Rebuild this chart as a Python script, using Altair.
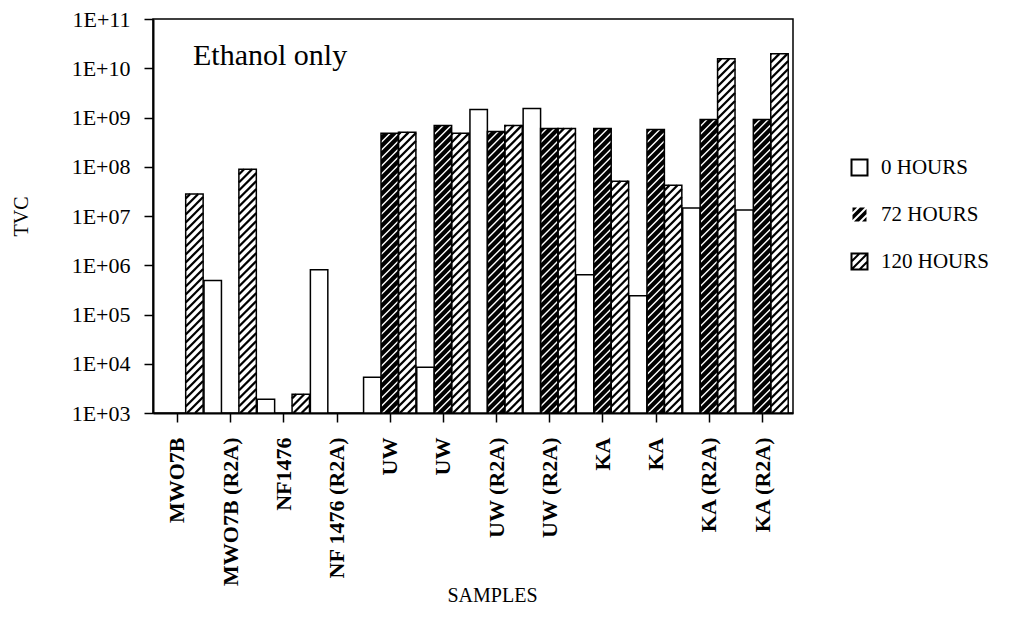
import json
import altair as alt
import pandas as pd

# ---------------- data ----------------
samples = ["MWO7B", "MWO7B (R2A)", "NF1476", "NF 1476 (R2A)", "UW", "UW",
           "UW (R2A)", "UW (R2A)", "KA", "KA", "KA (R2A)", "KA (R2A)"]
series = ["0 HOURS", "72 HOURS", "120 HOURS"]
tvc_0h = [None, 4.9e5, 1.9e3, 8.1e5, 5.3e3, 8.5e3, 1.45e9, 1.52e9, 6.4e5, 2.4e5, 1.45e7, 1.32e7]
tvc_72h = [None, None, None, None, 4.8e8, 6.9e8, 5.2e8, 6.0e8, 6.0e8, 5.7e8, 9.1e8, 9.1e8]
tvc_120h = [2.8e7, 8.9e7, 2.4e3, None, 5.0e8, 4.8e8, 6.9e8, 6.0e8, 5.1e7, 4.2e7, 1.56e10, 1.96e10]
y_ticks = [1e3, 1e4, 1e5, 1e6, 1e7, 1e8, 1e9, 1e10, 1e11]
annotation = ["Ethanol only"]

# ---------------- layout constants ----------------
W, H = 640, 394
G = 3.05                      # group width in x units (3 bars of width 1)
PAD = (G - 3) / 2
X0 = 0.15
X1 = 36.85
UNIT = W / (X1 - X0)          # px per x unit
DEC = H / 8.0                 # px per decade
SLOPE = UNIT / DEC            # decades per x unit -> 45 degree hatch
SPACING = 8.0 / DEC           # vertical hatch spacing in decades
FONT = "Liberation Serif"

rows = []
for i, name in enumerate(samples):
    for s, vals in enumerate([tvc_0h, tvc_72h, tvc_120h]):
        if vals[i] is not None:
            rows.append({"idx": i, "sample": name, "series": series[s], "s": s, "tvc": vals[i]})
df = pd.DataFrame(rows)

centers = [i * G + G / 2 for i in range(len(samples))]
label_expr = "[" + ",".join(json.dumps(n) for n in samples) + f"][round((datum.value - {G/2}) / {G})]"

x_scale = alt.Scale(domain=[X0, X1], nice=False, zero=False)
x_axis = alt.Axis(values=centers, labelExpr=label_expr, labelAngle=-90, title="SAMPLES",
                  labelFont=FONT, labelFontSize=22, labelFontWeight="bold", labelColor="black",
                  labelPadding=15, tickSize=9, tickWidth=1.5, tickColor="black",
                  domainColor="black", domainWidth=2, grid=False,
                  titleFont=FONT, titleFontSize=20, titleFontWeight="normal", titleColor="black",
                  titleX=339, titleY=182, titleAlign="center", titleBaseline="middle")
y_scale = alt.Scale(type="log", domain=[1e3, 1e11], nice=False)
y_axis = alt.Axis(values=y_ticks,
                  labelExpr="'1E+' + (log(datum.value)/LN10 < 9.5 ? '0' : '') + round(log(datum.value)/LN10)",
                  title="TVC", labelFont=FONT, labelFontSize=22, labelColor="black",
                  labelPadding=14, tickSize=9, tickWidth=1.5, tickColor="black",
                  domainColor="black", domainWidth=2, grid=False,
                  titleFont=FONT, titleFontSize=20, titleFontWeight="normal", titleColor="black",
                  titleX=-132, titleY=H / 2, titleAlign="center", titleBaseline="middle")


def X(field):
    return alt.X(field, scale=x_scale, axis=x_axis)


def Y(field):
    return alt.Y(field, scale=y_scale, axis=y_axis)


base = alt.Chart(df).transform_calculate(
    xl=f"datum.idx * {G} + {PAD} + datum.s",
    xr="datum.xl + 1",
    base="1000",
)

bar_fill = base.mark_bar(strokeWidth=0).encode(
    x=X("xl:Q"), x2="xr:Q", y=Y("tvc:Q"), y2="base:Q",
    fill=alt.condition("datum.s == 1", alt.value("black"), alt.value("white")),
)

hatch = base.transform_filter("datum.s > 0").transform_calculate(
    lt="log(datum.tvc) / LN10"
).transform_calculate(
    ks=f"sequence(0, ceil((datum.lt - 3 + {SLOPE}) / {SPACING}) + 1)"
).transform_flatten(["ks"], as_=["k"]).transform_calculate(
    a=f"3 - {SLOPE} + datum.k * {SPACING}"
).transform_filter(
    f"datum.a < datum.lt && datum.a + {SLOPE} > 3"
).transform_calculate(
    ys="max(datum.a, 3)", ye=f"min(datum.a + {SLOPE}, datum.lt)"
).transform_calculate(
    xs=f"datum.xl + (datum.ys - datum.a) / {SLOPE}",
    xe=f"datum.xl + (datum.ye - datum.a) / {SLOPE}",
    Ys="pow(10, datum.ys)", Ye="pow(10, datum.ye)",
).mark_rule().encode(
    x=X("xs:Q"), x2="xe:Q", y=Y("Ys:Q"), y2="Ye:Q",
    stroke=alt.condition("datum.s == 1", alt.value("white"), alt.value("black")),
    strokeWidth=alt.condition("datum.s == 1", alt.value(1.4), alt.value(2.3)),
)

bar_outline = base.mark_bar(fillOpacity=0, stroke="black", strokeWidth=1.5).encode(
    x=X("xl:Q"), x2="xr:Q", y=Y("tvc:Q"), y2="base:Q",
)

SQ = "M-1,-1H1V1H-1Z"
HATCHED = "M-1,-1H1V1H-1Z M-1,0L0,-1 M-1,1L1,-1 M0,1L1,0"
leg = alt.Legend(title=None, orient="none", legendX=696, legendY=138,
                 symbolSize=256, symbolStrokeWidth=2, symbolOpacity=1,
                 labelFont=FONT, labelFontSize=21,
                 labelColor="black", rowPadding=22, labelOffset=11)
legend_layer = alt.Chart(df).transform_filter("false").mark_point(
    filled=True, strokeWidth=2, size=256, opacity=1
).encode(
    fill=alt.Fill("series:N", scale=alt.Scale(domain=series, range=["white", "black", "white"]), legend=leg),
    stroke=alt.Stroke("series:N", scale=alt.Scale(domain=series, range=["black", "white", "black"]), legend=leg),
    shape=alt.Shape("series:N", scale=alt.Scale(domain=series, range=[SQ, HATCHED, HATCHED]), legend=leg),
)

text = alt.Chart(pd.DataFrame({"label": annotation})).mark_text(
    align="left", baseline="alphabetic", font=FONT, fontSize=30, color="black"
).encode(x=alt.value(40), y=alt.value(46), text="label:N")

chart = alt.layer(bar_fill, hatch, bar_outline, legend_layer, text).properties(
    width=W, height=H,
    autosize=alt.AutoSizeParams(type="none"),
    padding={"left": 145, "top": 11, "right": 215, "bottom": 210},
    background="white",
).configure_view(stroke="black", strokeWidth=1.5)

chart.save("out.html", embed_options={"renderer": "svg", "actions": False})
